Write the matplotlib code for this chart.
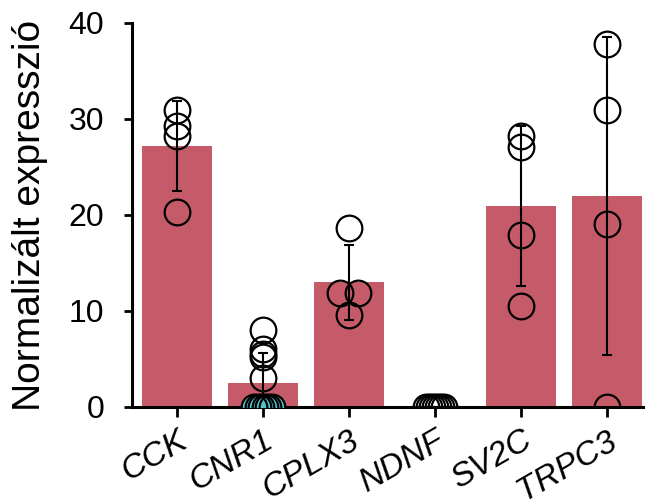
import numpy as np
import matplotlib
matplotlib.use("Agg")
import matplotlib.pyplot as plt
import matplotlib.transforms as mtransforms

plt.rcParams['font.family'] = ['Liberation Sans', 'DejaVu Sans']

genes = ["CCK", "CNR1", "CPLX3", "NDNF", "SV2C", "TRPC3"]

# individual samples
cck = [30.9, 29.3, 28.2, 20.3]
cnr1 = [8.0, 6.0, 5.5, 5.2, 3.0, 0, 0, 0, 0, 0, 0]
cplx3 = [18.6, 11.9, 11.9, 9.6]
ndnf = [0, 0, 0, 0, 0, 0, 0]
sv2c = [28.2, 27.1, 17.9, 10.5]
trpc3 = [37.8, 30.9, 19.1, 0]

groups = [cck, cnr1, cplx3, ndnf, sv2c, trpc3]
means = [np.mean(g) for g in groups]
sds = [np.std(g, ddof=1) for g in groups]

bar_color = "#C55B69"
gap_color = "#4FC6CC"   # the odd cyan showing between the stacked zero circles of CNR1

fig = plt.figure(figsize=(6.45, 5.03), dpi=100)
ax = fig.add_axes([0.2047, 0.1909, 0.7953, 0.7634])

x = np.arange(len(genes))
ax.bar(x, means, width=0.81, color=bar_color, zorder=1)
ax.errorbar(x, means, yerr=sds, fmt="none", ecolor="black", elinewidth=1.5,
            capsize=3.8, capthick=1.5, zorder=3)


def spread(vals, tol=0.1, half=0.1):
    # push identical values sideways so the circles don't fully overlap
    vals = np.asarray(vals, dtype=float)
    offs = np.zeros(len(vals))
    used = np.zeros(len(vals), dtype=bool)
    for i in range(len(vals)):
        if used[i]:
            continue
        idx = np.where((np.abs(vals - vals[i]) < tol) & ~used)[0]
        used[idx] = True
        if len(idx) > 1:
            offs[idx] = np.linspace(-half, half, len(idx))
    return offs


for i, g in enumerate(groups):
    offs = spread(g)
    g = np.asarray(g, dtype=float)
    if genes[i] == "CNR1":
        z = g == 0
        ax.plot(i + offs[z], g[z], "o", ms=17, mfc=gap_color, mec="none",
                zorder=3.5, clip_on=True)
    ax.plot(i + offs, g, "o", ms=18.5, mfc="none", mec="black", mew=1.6,
            zorder=4, clip_on=True)

ax.set_xlim(-0.523, 5.44)
ax.set_ylim(0, 40)
ax.set_yticks([0, 10, 20, 30, 40])
ax.set_xticks(x)
ax.set_xticklabels(genes, rotation=30, ha="right", rotation_mode="anchor",
                   style="italic", fontsize=24)
shift = mtransforms.ScaledTranslation(27 / 100, 0, fig.dpi_scale_trans)
for lab in ax.get_xticklabels():
    lab.set_transform(lab.get_transform() + shift)
ax.tick_params(axis="y", labelsize=23, width=2, length=6, pad=14)
ax.tick_params(axis="x", width=2, length=7, pad=6)

for s in ["top", "right"]:
    ax.spines[s].set_visible(False)
for s in ["left", "bottom"]:
    ax.spines[s].set_linewidth(2.2)

ax.set_ylabel("Normalizált expresszió", fontsize=28, labelpad=15)

fig.savefig("out.png", dpi=100)
